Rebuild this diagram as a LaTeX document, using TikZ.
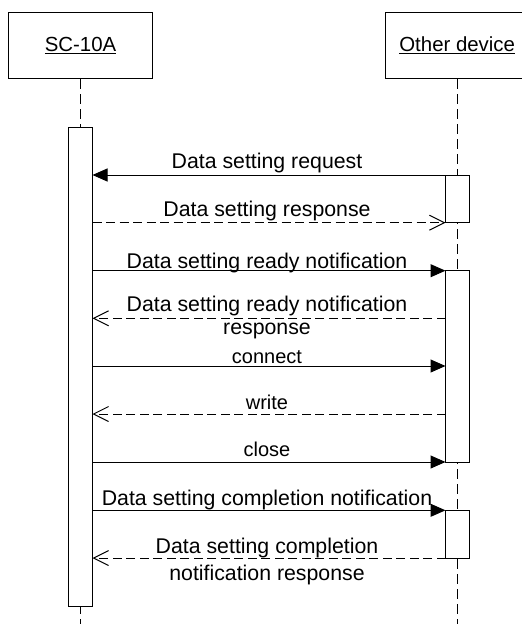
\documentclass[tikz,border=0pt]{standalone}
\usepackage{fontspec}
\setmainfont{Liberation Sans}
\usetikzlibrary{arrows.meta}
\begin{document}
\begin{tikzpicture}[x=1pt,y=-1pt,
  headbox/.style={draw,line width=1pt,minimum width=144pt,minimum height=66.5pt,inner sep=0pt,font=\fontsize{20.4}{24}\selectfont},
  lifeline/.style={line width=1pt,dash pattern=on 10pt off 5pt},
  actbar/.style={draw,fill=white,line width=1pt,minimum width=24pt,inner sep=0pt},
  syncmsg/.style={line width=1pt,-{Triangle[length=15pt,width=13pt]}},
  retmsg/.style={line width=1pt,dash pattern=on 9pt off 4.5pt,-{Straight Barb[length=15pt,width=15pt]}},
  biglbl/.style={anchor=base,inner sep=0pt,font=\fontsize{21.3}{25}\selectfont},
  smalllbl/.style={anchor=base,inner sep=0pt,font=\fontsize{20}{24}\selectfont}]
\clip (0,0) rectangle (522,624);
\fill[white] (0,0) rectangle (522,624);
% headers
\node[headbox] (sc) at (80.5,45.7) {\underline{SC-10A}};
\node[headbox] (od) at (457.2,45.7) {\underline{Other device}};
% lifelines
\coordinate (scend) at (80.5,624);
\coordinate (odend) at (457.2,624);
\draw[lifeline] (sc.south) -- (scend);
\draw[lifeline] (od.south) -- (odend);
% activation bars
\node[actbar,minimum height=479pt] (scbar) at (80.5,366.5) {};
\node[actbar,minimum height=47.7pt] (ob1) at (457.5,198.85) {};
\node[actbar,minimum height=191.3pt] (ob2) at (457.5,366.35) {};
\node[actbar,minimum height=47.7pt] (ob3) at (457.5,534.15) {};
% message end points
\coordinate (l1) at (92.5,175);   \coordinate (r1) at (445.5,175);
\coordinate (l2) at (92.5,222.7); \coordinate (r2) at (445.5,222.7);
\coordinate (l3) at (92.5,270.7); \coordinate (r3) at (445.5,270.7);
\coordinate (l4) at (92.5,318.3); \coordinate (r4) at (445.5,318.3);
\coordinate (l5) at (92.5,366);   \coordinate (r5) at (445.5,366);
\coordinate (l6) at (92.5,414);   \coordinate (r6) at (445.5,414);
\coordinate (l7) at (92.5,462);   \coordinate (r7) at (445.5,462);
\coordinate (l8) at (92.5,510.3); \coordinate (r8) at (445.5,510.3);
\coordinate (l9) at (92.5,558);   \coordinate (r9) at (445.5,558);
% messages
\draw[syncmsg] (r1) -- (l1);
\draw[retmsg] (l2) -- (r2);
\draw[syncmsg] (l3) -- (r3);
\draw[retmsg] (r4) -- (l4);
\draw[syncmsg] (l5) -- (r5);
\draw[retmsg] (r6) -- (l6);
\draw[syncmsg] (l7) -- (r7);
\draw[syncmsg] (l8) -- (r8);
\draw[retmsg] (r9) -- (l9);
% labels
\node[biglbl] (t1) at (267,168.3) {Data setting request};
\node[biglbl] (t2) at (267,216) {Data setting response};
\node[biglbl] (t3) at (267,268.3) {Data setting ready notification};
\node[biglbl] (t4a) at (267,311.7) {Data setting ready notification};
\node[biglbl] (t4b) at (267,334) {response};
\node[smalllbl] (t5) at (267,363.3) {connect};
\node[smalllbl] (t6) at (267,409) {write};
\node[smalllbl] (t7) at (267,456.7) {close};
\node[biglbl] (t8) at (267,505.7) {Data setting completion notification};
\node[biglbl] (t9a) at (267,553.3) {Data setting completion};
\node[biglbl] (t9b) at (267,580.7) {notification response};
\end{tikzpicture}
\end{document}
